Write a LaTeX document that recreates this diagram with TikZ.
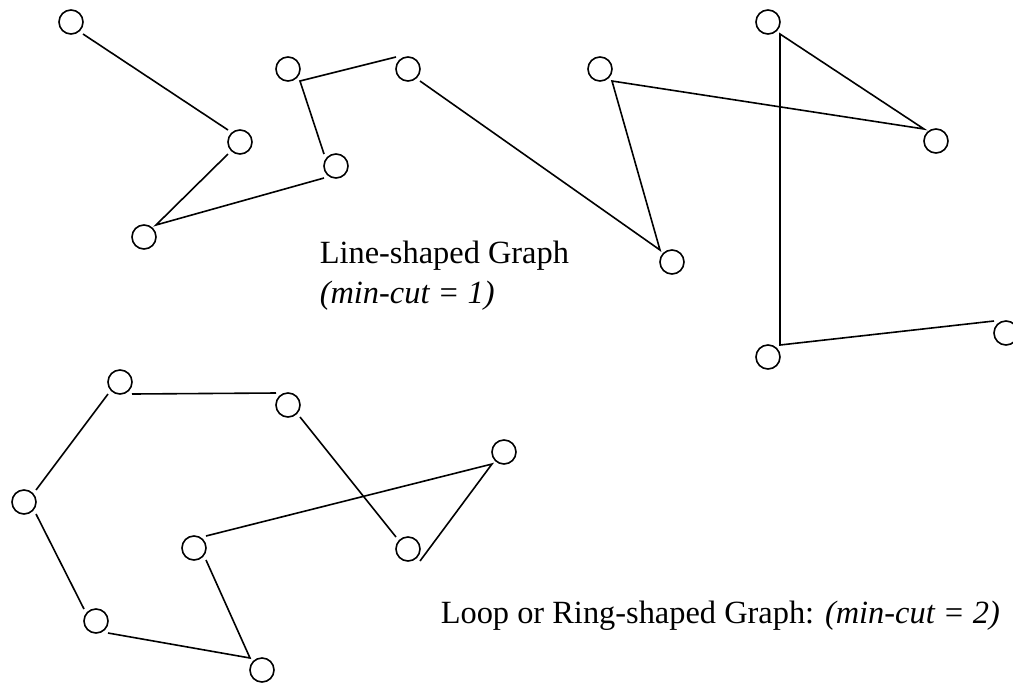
\documentclass[tikz,border=0pt]{standalone}
\usepackage{fontspec}
\setmainfont{Liberation Serif}
\usetikzlibrary{calc}

\begin{document}
\begin{tikzpicture}[x=0.5pt, y=-0.5pt, line width=0.8pt,
    vtx/.style={circle, draw, minimum size=12pt, inner sep=0pt, outer sep=0pt},
    caption/.style={anchor=base west, inner sep=0pt, font=\fontsize{16.2}{19}\selectfont}]
  \useasboundingbox (0,0) rectangle (1013,682);

  % line-shaped graph
  \node[vtx] (l1) at (71,22) {};     \node[vtx] (l2) at (240,142) {};
  \node[vtx] (l3) at (144,237) {};   \node[vtx] (l4) at (336,166) {};
  \node[vtx] (l5) at (288,69) {};    \node[vtx] (l6) at (408,69) {};
  \node[vtx] (l7) at (672,262) {};   \node[vtx] (l8) at (600,69) {};
  \node[vtx] (l9) at (936,141) {};   \node[vtx] (l10) at (768,22) {};
  \node[vtx] (l11) at (768,357) {};  \node[vtx] (l12) at (1006,333) {};
  \draw
    (l1.east |- l1.south) -- (l2.west |- l2.north)
    (l2.west |- l2.south) -- (l3.east |- l3.north) -- (l4.west |- l4.south)
    (l4.west |- l4.north) -- (l5.east |- l5.south) -- (l6.west |- l6.north)
    (l6.east |- l6.south) -- (l7.west |- l7.north) -- (l8.east |- l8.south)
      -- (l9.west |- l9.north) -- (l10.east |- l10.south) -- (l11.east |- l11.north)
      -- (l12.west |- l12.north);
  \node[caption] (lname) at (319,263) {Line-shaped Graph};
  \node[caption] (lcut) at (319,303) {\textit{(min-cut = 1)}};

  % loop or ring-shaped graph
  \node[vtx] (r1) at (120,382) {};   \node[vtx] (r2) at (288,405) {};
  \node[vtx] (r3) at (408,549) {};   \node[vtx] (r4) at (504,452) {};
  \node[vtx] (r5) at (194,548) {};   \node[vtx] (r6) at (262,670) {};
  \node[vtx] (r7) at (96,621) {};    \node[vtx] (r8) at (24,502) {};
  \draw
    (r8.east |- r8.north) -- (r1.west |- r1.south)
    (r1.east |- r1.south) -- (r2.west |- r2.north)
    (r2.east |- r2.south) -- (r3.west |- r3.north)
    (r3.east |- r3.south) -- (r4.west |- r4.south) -- (r5.east |- r5.north)
    (r5.east |- r5.south) -- (r6.west |- r6.north) -- (r7.east |- r7.south)
    (r7.west |- r7.north) -- (r8.east |- r8.south);
  \node[caption] (rname) at (440,623) {Loop or Ring-shaped Graph: \textit{(min-cut = 2)}};
\end{tikzpicture}
\end{document}
